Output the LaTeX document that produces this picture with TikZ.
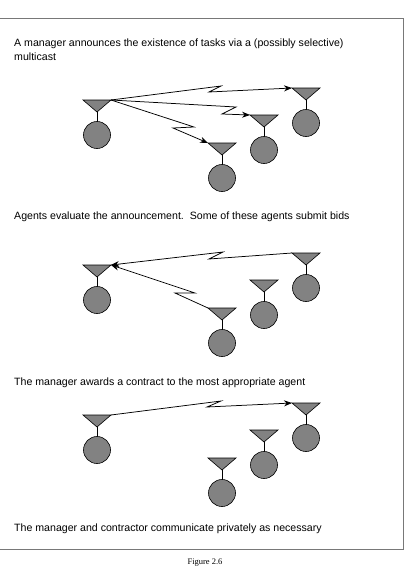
\documentclass[tikz,border=0pt]{standalone}
\usepackage{fontspec}
\setmainfont{Liberation Sans}
\newfontfamily\figfont{Liberation Serif}
\usetikzlibrary{arrows.meta}
\definecolor{agentGray}{RGB}{130,130,130}
\definecolor{frameGray}{RGB}{120,120,120}
\tikzset{
  pics/agent/.style={code={
      \draw[fill=agentGray, line width=0.6pt] (-14,0) -- (14,0) -- (0,12) -- cycle;
      \draw[line width=0.6pt] (0,12) -- (0,21.5);
      \draw[fill=agentGray, line width=0.6pt] (0,35) circle (13.5pt);
      \coordinate (-l) at (-14,0);
      \coordinate (-r) at (14,0);
    }},
  msg/.style={-{Stealth[length=8pt,width=6pt]}, line width=0.75pt},
  caption/.style={anchor=base west, inner sep=0pt, font=\fontsize{10.6}{12}\selectfont}
}

\begin{document}
\begin{tikzpicture}[x=1pt, y=-1pt]
  \useasboundingbox (0,0) rectangle (410,568);
  % frame
  \draw[frameGray, line width=0.6pt] (0,18) -- (403,18) -- (403,549) -- (0,549);

  % announcement
  \node[caption] (t1) at (14,46) {A manager announces the existence of tasks via a (possibly selective)};
  \node[caption] (t1b) at (14,60) {multicast};
  \pic (m1) at (97,100) {agent};
  \pic (a1) at (306,88) {agent};
  \pic (b1) at (264,115) {agent};
  \pic (c1) at (222,143) {agent};
  \draw[msg] (m1-r) -- ++(110,-14) -- ++(-12,6) -- (a1-l);
  \draw[msg] (m1-r) -- ++(125,7) -- ++(-14,7) -- (b1-l);
  \draw[msg] (m1-r) -- ++(83,27) -- ++(-21,1) -- (c1-l);

  % bids
  \node[caption] (t2) at (14,219) {Agents evaluate the announcement.\ \ Some of these agents submit bids};
  \pic (m2) at (97,265) {agent};
  \pic (a2) at (306,253) {agent};
  \pic (b2) at (264,280) {agent};
  \pic (c2) at (222,308) {agent};
  \draw[msg] (a2-l) -- ++(-83,6) -- ++(14,-7) -- (m2-r);
  \draw[msg] (c2-l) -- ++(-33,-15) -- ++(20,0) -- (m2-r);

  % award
  \node[caption] (t3) at (14,385) {The manager awards a contract to the most appropriate agent};
  \pic (m3) at (97,415) {agent};
  \pic (a3) at (306,403) {agent};
  \pic (b3) at (264,430) {agent};
  \pic (c3) at (222,458) {agent};
  \draw[msg] (m3-r) -- ++(110,-14) -- ++(-14,6) -- (a3-l);

  % private talk
  \node[caption] (t4) at (14,531) {The manager and contractor communicate privately as necessary};

  \node[anchor=base, inner sep=0pt, font=\figfont\fontsize{8.5}{10}\selectfont] (fig) at (205,564) {Figure 2.6};
\end{tikzpicture}
\end{document}
